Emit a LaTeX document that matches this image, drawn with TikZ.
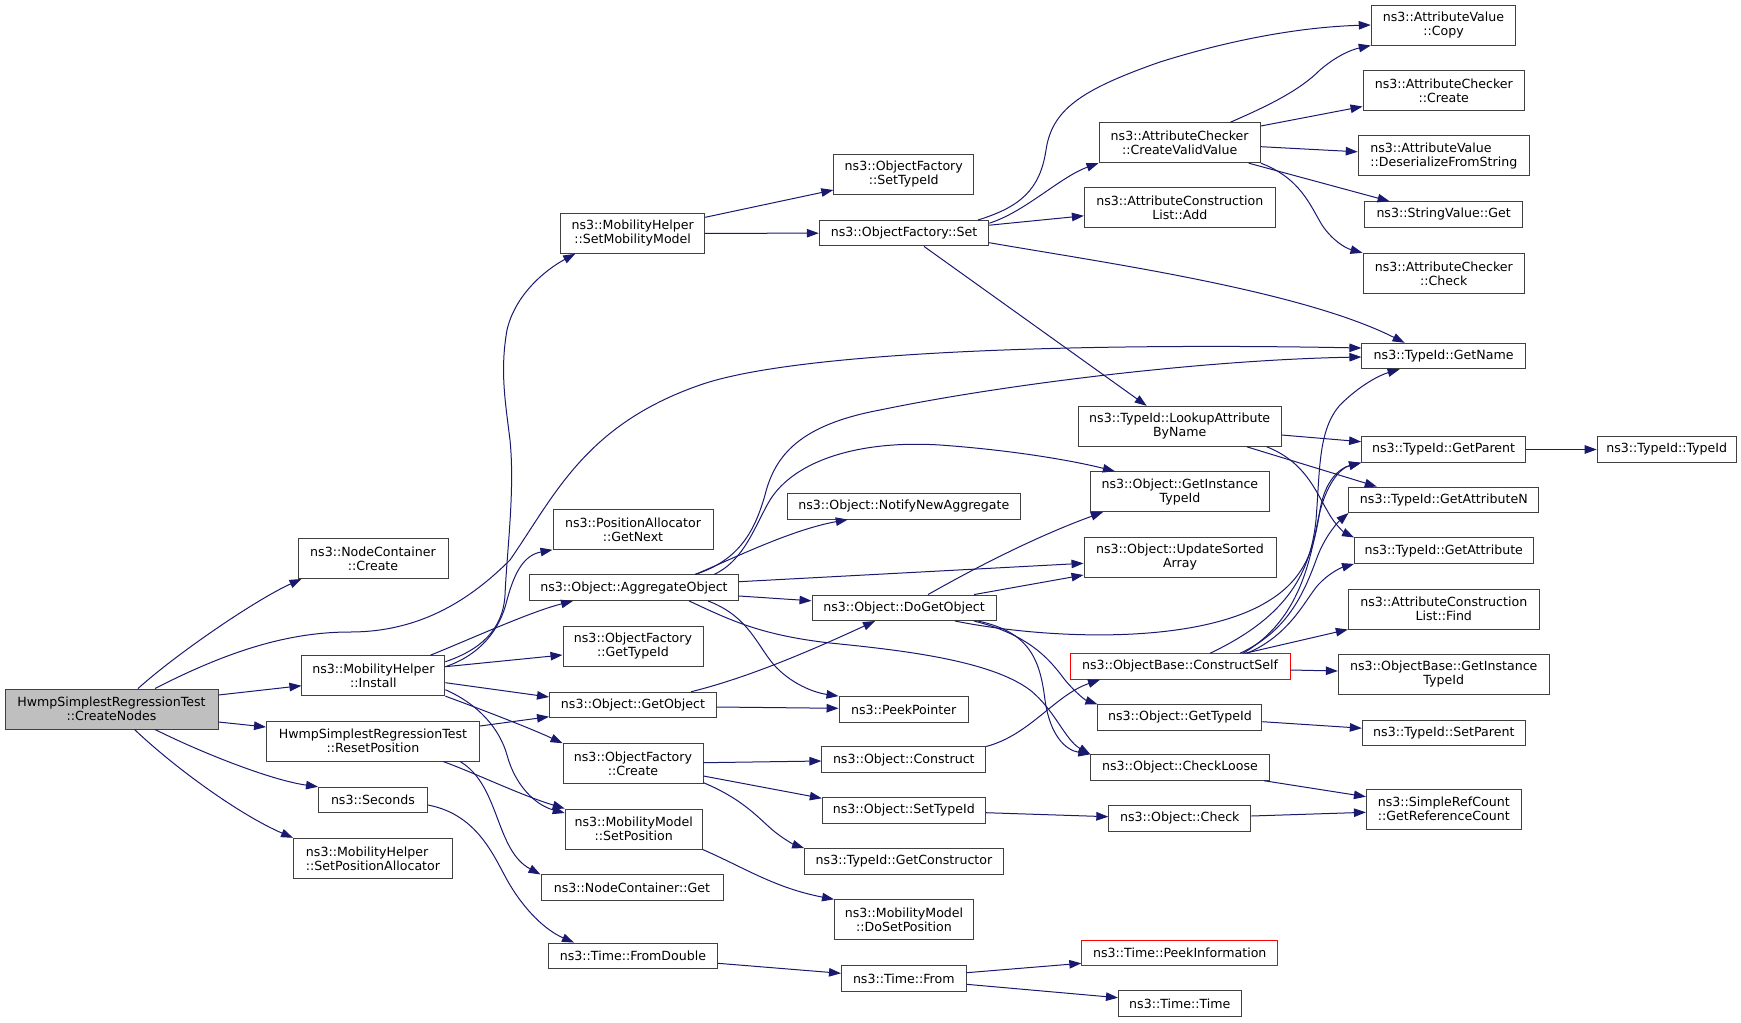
\documentclass[tikz,border=0pt]{standalone}
\usepackage{fontspec}
\setmainfont{DejaVu Sans}
\usetikzlibrary{arrows.meta}
\definecolor{edgeblue}{HTML}{191970}
\definecolor{boxgray}{HTML}{404040}
\definecolor{rootfill}{HTML}{BFBFBF}
\definecolor{truncred}{HTML}{FF0000}
\tikzset{
  fn/.style={font=\fontsize{12.6}{14}\selectfont},
  box/.style={draw=boxgray, line width=0.95pt, fill=white, rectangle, inner sep=0pt,
              minimum height=25.5pt, align=center, fn},
  box2/.style={box, minimum height=40pt},
  redbox/.style={draw=truncred},
  e/.style={draw=edgeblue, line width=1pt, -{Triangle[length=12pt,width=8.5pt]}},
}
\begin{document}
\begin{tikzpicture}[x=1pt,y=-1pt]
\useasboundingbox (0,0) rectangle (1741,1023);
% column 0
\node[box2, fill=rootfill, minimum width=213] (cn) at (111.5,709) {HwmpSimplestRegressionTest\\::CreateNodes};
% column 1
\node[box2, minimum width=150] (ncc) at (373,558.5) {ns3::NodeContainer\\::Create};
\node[box2, minimum width=143] (inst) at (373.4,675.7) {ns3::MobilityHelper\\::Install};
\node[box2, minimum width=213] (rp) at (373,741) {HwmpSimplestRegressionTest\\::ResetPosition};
\node[box, minimum width=109] (sec) at (373,800) {ns3::Seconds};
\node[box2, minimum width=159, align=left] (spa) at (373,858.3) {ns3::MobilityHelper\\::SetPositionAllocator};
% column 2
\node[box2, minimum width=144] (smm) at (632.7,233.3) {ns3::MobilityHelper\\::SetMobilityModel};
\node[box2, minimum width=160] (gn) at (633,529.3) {ns3::PositionAllocator\\::GetNext};
\node[box, minimum width=209] (ao) at (634,587.7) {ns3::Object::AggregateObject};
\node[box2, minimum width=140] (oftid) at (633,646.5) {ns3::ObjectFactory\\::GetTypeId};
\node[box, minimum width=167] (go) at (633,705) {ns3::Object::GetObject};
\node[box2, minimum width=140] (ofc) at (633,763.7) {ns3::ObjectFactory\\::Create};
\node[box2, minimum width=137] (sp) at (633.7,829) {ns3::MobilityModel\\::SetPosition};
\node[box, minimum width=182] (ncg) at (632,887.7) {ns3::NodeContainer::Get};
\node[box, minimum width=169] (fd) at (633,955.8) {ns3::Time::FromDouble};
% column 3
\node[box2, minimum width=140] (ofst) at (903.8,174.3) {ns3::ObjectFactory\\::SetTypeId};
\node[box, minimum width=169.5] (ofs) at (904,233.2) {ns3::ObjectFactory::Set};
\node[box, minimum width=233.5] (nna) at (903.8,506.3) {ns3::Object::NotifyNewAggregate};
\node[box, minimum width=184] (dgo) at (904,607.8) {ns3::Object::DoGetObject};
\node[box, minimum width=129.4] (pp) at (903.7,709.3) {ns3::PeekPointer};
\node[box, minimum width=163.8] (oc) at (903.8,759.7) {ns3::Object::Construct};
\node[box, minimum width=163] (ost) at (903.8,810.5) {ns3::Object::SetTypeId};
\node[box, minimum width=198.7] (gc) at (904,861.3) {ns3::TypeId::GetConstructor};
\node[box2, minimum width=139] (dsp) at (904,919.8) {ns3::MobilityModel\\::DoSetPosition};
\node[box, minimum width=124.7] (tf) at (903.8,978.3) {ns3::Time::From};
% column 4
\node[box2, minimum width=161.4] (cvv) at (1179.7,142.7) {ns3::AttributeChecker\\::CreateValidValue};
\node[box2, minimum width=190.8] (acla) at (1179.8,207.8) {ns3::AttributeConstruction\\List::Add};
\node[box2, minimum width=203] (lab) at (1179.7,426.3) {ns3::TypeId::LookupAttribute\\ByName};
\node[box2, minimum width=178.8] (ogit) at (1179.9,491.7) {ns3::Object::GetInstance\\TypeId};
\node[box2, minimum width=192] (usa) at (1180,557) {ns3::Object::UpdateSorted\\Array};
\node[box, redbox, minimum width=220] (cs) at (1180,666.5) {ns3::ObjectBase::ConstructSelf};
\node[box, minimum width=164] (ogt) at (1179.9,717.5) {ns3::Object::GetTypeId};
\node[box, minimum width=178.4] (ocl) at (1180,767.5) {ns3::Object::CheckLoose};
\node[box, minimum width=142] (och) at (1179.8,818.5) {ns3::Object::Check};
\node[box, redbox, minimum width=196] (tpi) at (1179.8,953) {ns3::Time::PeekInformation};
\node[box, minimum width=122.7] (tt) at (1179.8,1003.7) {ns3::Time::Time};
% column 5
\node[box2, minimum width=144.5] (avc) at (1443.5,25) {ns3::AttributeValue\\::Copy};
\node[box2, minimum width=161.6] (acc) at (1443.8,90.5) {ns3::AttributeChecker\\::Create};
\node[box2, minimum width=171.2, align=left] (dfs) at (1443.8,155.8) {ns3::AttributeValue\\::DeserializeFromString};
\node[box, minimum width=157.5] (svg) at (1443.6,214.5) {ns3::StringValue::Get};
\node[box2, minimum width=161.6] (ach) at (1443.8,273.3) {ns3::AttributeChecker\\::Check};
\node[box, minimum width=163.4] (gname) at (1443.6,356) {ns3::TypeId::GetName};
\node[box, minimum width=164] (gp) at (1443.6,449.5) {ns3::TypeId::GetParent};
\node[box, minimum width=189.7] (gan) at (1443.8,499.8) {ns3::TypeId::GetAttributeN};
\node[box, minimum width=178.6] (ga) at (1443.8,550.7) {ns3::TypeId::GetAttribute};
\node[box2, minimum width=191] (aclf) at (1443.8,609) {ns3::AttributeConstruction\\List::Find};
\node[box2, minimum width=211] (obgit) at (1443.8,674.3) {ns3::ObjectBase::GetInstance\\TypeId};
\node[box, minimum width=163] (tsp) at (1443.8,733.2) {ns3::TypeId::SetParent};
\node[box2, minimum width=154.8] (grc) at (1443.8,809) {ns3::SimpleRefCount\\::GetReferenceCount};
% column 6
\node[box, minimum width=139] (tid) at (1666.7,449.5) {ns3::TypeId::TypeId};

% ---- edges from CreateNodes
\draw[e] ([xshift=26.5]cn.north) .. controls (175,655) and (255,600) .. ([xshift=4]ncc.south west);
\draw[e] ([xshift=43.5]cn.north) .. controls (230,650) and (290,632) .. (350,632)
   .. controls (420,632) and (470,600) .. (510,560)
   .. controls (555,495) and (585,425) .. (700,385)
   .. controls (800,350) and (1100,343) .. ([yshift=8]gname.west);
\draw[e] ([yshift=14]cn.east) -- ([yshift=-10]inst.west);
\draw[e] ([yshift=-13]cn.east) -- ([yshift=14]rp.west);
\draw[e] ([xshift=43.5]cn.south) .. controls (200,752) and (270,780) .. (sec.north west);
\draw[e] ([xshift=23]cn.south) .. controls (175,768) and (240,815) .. (spa.north west);
% ---- edges from Install
\draw[e] ([yshift=14]inst.east) .. controls (480,650) and (503,630) .. (505,595)
   .. controls (507,550) and (515,490) .. (510,440)
   .. controls (505,400) and (500,370) .. (507,330)
   .. controls (515,295) and (545,270) .. ([xshift=15]smm.south west);
\draw[e] ([yshift=9]inst.east) .. controls (480,655) and (500,630) .. (507,600)
   .. controls (515,570) and (525,555) .. (gn.south west);
\draw[e] ([xshift=57]inst.north) .. controls (480,635) and (530,612) .. ([xshift=-61]ao.south);
\draw[e] ([yshift=9]inst.east) -- ([yshift=-8.5]oftid.west);
\draw[e] ([yshift=-7]inst.east) -- ([yshift=8]go.west);
\draw[e] (inst.south east) .. controls (475,707) and (530,728) .. (ofc.north west);
\draw[e] ([yshift=-14]inst.east) .. controls (480,705) and (500,730) .. (507,755)
   .. controls (515,785) and (535,805) .. ([yshift=16]sp.west);
% ---- edges from ResetPosition / Seconds
\draw[e] ([yshift=15]rp.east) -- ([yshift=-11.7]go.west);
\draw[e] ([xshift=70]rp.south) .. controls (475,773) and (520,795) .. (sp.north west);
\draw[e] ([xshift=87]rp.south) .. controls (500,785) and (495,850) .. (ncg.north west);
\draw[e] ([yshift=-5]sec.east) .. controls (480,815) and (495,860) .. (510,885)
   .. controls (525,910) and (545,930) .. ([xshift=-59]fd.north);
% ---- SetMobilityModel
\draw[e] ([yshift=16]smm.east) -- ([yshift=-15.7]ofst.west);
\draw[e] (smm.east) -- (ofs.west);
% ---- ObjectFactory::Set
\draw[e] ([xshift=74]ofs.north) .. controls (1020,207) and (1040,190) .. (1046,150)
   .. controls (1052,110) and (1080,90) .. (1160,62)
   .. controls (1230,40) and (1300,27) .. (avc.west);
\draw[e] ([yshift=10]ofs.east) .. controls (1025,212) and (1060,177) .. (cvv.south west);
\draw[e] ([yshift=8]ofs.east) -- ([yshift=-8]acla.west);
\draw[e] ([yshift=-9.5]ofs.east) .. controls (1100,262) and (1300,290) .. ([xshift=-39]gname.north);
\draw[e] ([xshift=20]ofs.south) -- ([xshift=-33]lab.north);
% ---- CreateValidValue
\draw[e] ([xshift=50.7]cvv.north) .. controls (1270,105) and (1300,90) .. (1320,70)
   .. controls (1335,57) and (1350,50) .. (avc.south west);
\draw[e] ([yshift=16.7]cvv.east) -- ([yshift=-16]acc.west);
\draw[e] ([yshift=-4]cvv.east) -- ([yshift=4]dfs.west);
\draw[e] ([xshift=69]cvv.south) -- ([xshift=-54]svg.north);
\draw[e] (cvv.south east) .. controls (1300,178) and (1310,205) .. (1322,225)
   .. controls (1332,240) and (1345,248) .. (ach.north west);
% ---- LookupAttributeByName
\draw[e] ([yshift=-8.7]lab.east) -- ([yshift=7.8]gp.west);
\draw[e] ([xshift=67]lab.south) -- ([xshift=-67]gan.north);
\draw[e] ([xshift=87]lab.south) .. controls (1305,462) and (1315,490) .. (1328,512)
   .. controls (1335,525) and (1345,533) .. (ga.north west);
\draw[e] (gp.east) -- (tid.west);
% ---- AggregateObject
\draw[e] ([xshift=61]ao.north) .. controls (740,560) and (755,530) .. (765,495)
   .. controls (775,455) and (800,425) .. (880,410)
   .. controls (1000,385) and (1200,360) .. ([yshift=-1]gname.west);
\draw[e] ([xshift=80]ao.north) .. controls (745,560) and (755,525) .. (770,500)
   .. controls (795,460) and (860,440) .. (940,445)
   .. controls (1010,450) and (1070,460) .. ([xshift=-65]ogit.north);
\draw[e] ([xshift=61]ao.north) .. controls (730,560) and (790,530) .. ([xshift=-56]nna.south);
\draw[e] ([yshift=6]ao.east) -- ([yshift=-6.3]usa.west);
\draw[e] ([yshift=-8.3]ao.east) -- ([yshift=7]dgo.west);
\draw[e] ([xshift=74]ao.south) .. controls (745,615) and (755,640) .. (770,660)
   .. controls (785,680) and (810,692) .. (pp.north west);
\draw[e] ([xshift=55]ao.south) .. controls (730,620) and (760,635) .. (830,643)
   .. controls (900,650) and (990,660) .. (1030,690)
   .. controls (1055,710) and (1065,740) .. (ocl.north west);
% ---- DoGetObject
\draw[e] ([xshift=24]dgo.north) .. controls (980,565) and (1040,535) .. ([xshift=-77]ogit.south);
\draw[e] ([xshift=70]dgo.north) -- ([yshift=-18]usa.west);
\draw[e] ([xshift=51]dgo.south) .. controls (1050,640) and (1200,645) .. (1270,600)
   .. controls (1310,575) and (1315,540) .. (1320,510)
   .. controls (1325,480) and (1340,468) .. (gp.south west);
\draw[e] ([xshift=70]dgo.south) .. controls (1030,635) and (1050,660) .. (1065,680)
   .. controls (1075,692) and (1085,700) .. (ogt.north west);
\draw[e] ([xshift=74]dgo.south) .. controls (1030,632) and (1040,660) .. (1045,700)
   .. controls (1050,735) and (1065,750) .. (ocl.north west);
% ---- GetObject
\draw[e] ([xshift=58]go.north) .. controls (730,682) and (780,665) .. ([xshift=-29]dgo.south);
\draw[e] ([yshift=-2]go.east) -- ([yshift=1]pp.west);
% ---- ObjectFactory::Create
\draw[e] ([yshift=1]ofc.east) -- ([yshift=-1.3]oc.west);
\draw[e] ([yshift=-12.3]ofc.east) -- ([yshift=12.2]ost.west);
\draw[e] ([yshift=-19]ofc.east) .. controls (745,800) and (760,820) .. (775,832)
   .. controls (785,840) and (795,845) .. (gc.north west);
% ---- misc
\draw[e] (sp.south east) .. controls (745,868) and (775,888) .. (dsp.north west);
\draw[e] ([yshift=-7.5]fd.east) -- ([yshift=5]tf.west);
\draw[e] (oc.north east) .. controls (1030,735) and (1055,695) .. ([xshift=-80]cs.south);
\draw[e] ([yshift=-2.2]ost.east) -- ([yshift=1.8]och.west);
\draw[e] ([yshift=-4.2]ogt.east) -- ([yshift=5]tsp.west);
\draw[e] ([xshift=-5.6]ocl.south east) -- ([yshift=12.3]grc.west);
\draw[e] ([yshift=2.5]och.east) -- ([yshift=-3.3]grc.west);
\draw[e] ([yshift=5.6]tf.east) -- ([yshift=-10.3]tpi.west);
\draw[e] ([yshift=-6]tf.east) -- ([yshift=6]tt.west);
% ---- ConstructSelf
\draw[e] ([yshift=-3.5]cs.east) -- ([yshift=3.3]obgit.west);
\draw[e] ([xshift=65]cs.north) -- (aclf.south west);
\draw[e] ([xshift=67]cs.north) .. controls (1290,635) and (1305,600) .. (1318,585)
   .. controls (1328,574) and (1340,568) .. (ga.south west);
\draw[e] ([xshift=60]cs.north) .. controls (1290,630) and (1305,590) .. (1318,555)
   .. controls (1326,535) and (1338,522) .. (gan.south west);
\draw[e] ([xshift=63]cs.north) .. controls (1300,620) and (1310,560) .. (1318,520)
   .. controls (1325,485) and (1340,468) .. (gp.south west);
\draw[e] ([xshift=30]cs.north) .. controls (1280,620) and (1310,580) .. (1316,520)
   .. controls (1320,470) and (1318,430) .. (1340,405)
   .. controls (1360,385) and (1380,375) .. ([xshift=-44]gname.south);
\end{tikzpicture}
\end{document}
